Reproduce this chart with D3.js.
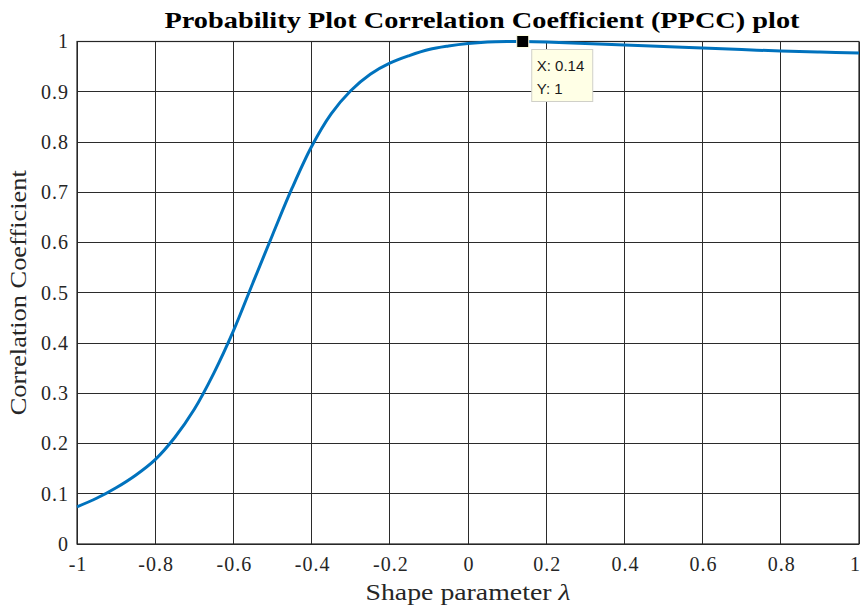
<!DOCTYPE html>
<html>
<head>
<meta charset="utf-8">
<script src="https://cdn.jsdelivr.net/npm/d3@7"></script>
<style>
  html, body { margin: 0; padding: 0; background: #fff; }
  svg { display: block; }
</style>
</head>
<body>
<svg id="chart" width="861" height="605"></svg>
<script>
// Shape parameter lambda and the probability plot correlation coefficient
const lambdaValues = [-1, -0.95, -0.9, -0.85, -0.8, -0.75, -0.7, -0.65, -0.6, -0.55, -0.5,
  -0.45, -0.4, -0.35, -0.3, -0.25, -0.2, -0.15, -0.1, -0.05, 0, 0.05, 0.1, 0.14,
  0.2, 0.3, 0.4, 0.5, 0.6, 0.7, 0.8, 0.9, 1];
const ppccValues = [0.074, 0.091, 0.112, 0.137, 0.168, 0.212, 0.268, 0.340, 0.424, 0.520, 0.615,
  0.708, 0.791, 0.856, 0.902, 0.935, 0.957, 0.972, 0.984, 0.991, 0.996, 0.999, 1.0, 1.0,
  0.999, 0.996, 0.993, 0.990, 0.987, 0.984, 0.981, 0.979, 0.977];
const xTicks = [-1, -0.8, -0.6, -0.4, -0.2, 0, 0.2, 0.4, 0.6, 0.8, 1];
const yTicks = [0, 0.1, 0.2, 0.3, 0.4, 0.5, 0.6, 0.7, 0.8, 0.9, 1];
const peakPoint = { x: 0.14, y: 1 };

const svg = d3.select("#chart");
const plotLeft = 77, plotRight = 859, plotTop = 41.5, plotBottom = 544;

const x = d3.scaleLinear().domain([-1, 1]).range([plotLeft, plotRight]);
const y = d3.scaleLinear().domain([0, 1]).range([plotBottom, plotTop]);

const serif = "'Liberation Serif', 'Times New Roman', serif";
const gridColor = "#2b2b2b";

// grid
svg.append("g").selectAll("line").data(xTicks).join("line")
  .attr("x1", d => x(d)).attr("x2", d => x(d))
  .attr("y1", plotTop).attr("y2", plotBottom)
  .attr("stroke", gridColor).attr("stroke-width", 1).attr("shape-rendering", "crispEdges");
svg.append("g").selectAll("line").data(yTicks).join("line")
  .attr("x1", plotLeft).attr("x2", plotRight)
  .attr("y1", d => y(d)).attr("y2", d => y(d))
  .attr("stroke", gridColor).attr("stroke-width", 1).attr("shape-rendering", "crispEdges");

// axes
const xAxis = d3.axisBottom(x).tickValues(xTicks).tickSize(0).tickPadding(9)
  .tickFormat(d => String(d));
const yAxis = d3.axisLeft(y).tickValues(yTicks).tickSize(0).tickPadding(9)
  .tickFormat(d => String(d));

const gx = svg.append("g").attr("transform", `translate(0,${plotBottom})`).call(xAxis);
const gy = svg.append("g").attr("transform", `translate(${plotLeft},0)`).call(yAxis);
[gx, gy].forEach(g => {
  g.select(".domain").remove();
  g.selectAll("text").attr("font-family", serif).attr("font-size", 20)
    .attr("letter-spacing", "1px").attr("fill", "#262626");
});
gx.selectAll("text").attr("dy", "0.9em").attr("dx", d => d === 1 ? "-4px" : "0.5px");
gy.selectAll("text").attr("dy", "0.32em").attr("dx", "1px");

// plot box
svg.append("rect")
  .attr("x", plotLeft).attr("y", plotTop).attr("width", plotRight - plotLeft).attr("height", plotBottom - plotTop)
  .attr("fill", "none").attr("stroke", "#262626").attr("stroke-width", 1.2);

// curve
const pts = lambdaValues.map((v, i) => [v, ppccValues[i]]);
const line = d3.line().x(d => x(d[0])).y(d => y(d[1])).curve(d3.curveCatmullRom.alpha(0.5));
svg.append("path").datum(pts)
  .attr("d", line)
  .attr("fill", "none").attr("stroke", "#0072BD").attr("stroke-width", 3);

// data tip
const mx = x(peakPoint.x), my = y(peakPoint.y);
svg.append("rect")
  .attr("x", mx - 6).attr("y", my - 6).attr("width", 12).attr("height", 12)
  .attr("fill", "#000").attr("stroke", "#ffffe1").attr("stroke-width", 1);
const tip = svg.append("g").attr("transform", `translate(${mx + 9},${my + 8})`);
tip.append("rect").attr("x", 0).attr("y", 0).attr("width", 61).attr("height", 52)
  .attr("fill", "#ffffe6").attr("stroke", "#d0d0c8").attr("stroke-width", 1);
tip.append("text").attr("x", 5).attr("y", 21)
  .attr("font-family", "'Liberation Sans', Arial, sans-serif").attr("font-size", 15)
  .attr("fill", "#1a1a1a").text(`X: ${peakPoint.x}`);
tip.append("text").attr("x", 5).attr("y", 44)
  .attr("font-family", "'Liberation Sans', Arial, sans-serif").attr("font-size", 15)
  .attr("fill", "#1a1a1a").text(`Y: ${peakPoint.y}`);

// title and labels
svg.append("text").attr("x", 482).attr("y", 28)
  .attr("text-anchor", "middle").attr("font-family", serif).attr("font-weight", "bold")
  .attr("font-size", 23).attr("fill", "#000")
  .attr("textLength", 635).attr("lengthAdjust", "spacingAndGlyphs")
  .text("Probability Plot Correlation Coefficient (PPCC) plot");

svg.append("text").attr("x", 468).attr("y", 600)
  .attr("text-anchor", "middle").attr("font-family", serif).attr("font-size", 23).attr("fill", "#262626")
  .attr("textLength", 205).attr("lengthAdjust", "spacingAndGlyphs")
  .html("Shape parameter <tspan font-style='italic'>λ</tspan>");

svg.append("text")
  .attr("transform", `translate(26,${(plotTop + plotBottom) / 2}) rotate(-90)`)
  .attr("text-anchor", "middle").attr("font-family", serif).attr("font-size", 23).attr("fill", "#262626")
  .attr("textLength", 245).attr("lengthAdjust", "spacingAndGlyphs")
  .text("Correlation Coefficient");
</script>
</body>
</html>
